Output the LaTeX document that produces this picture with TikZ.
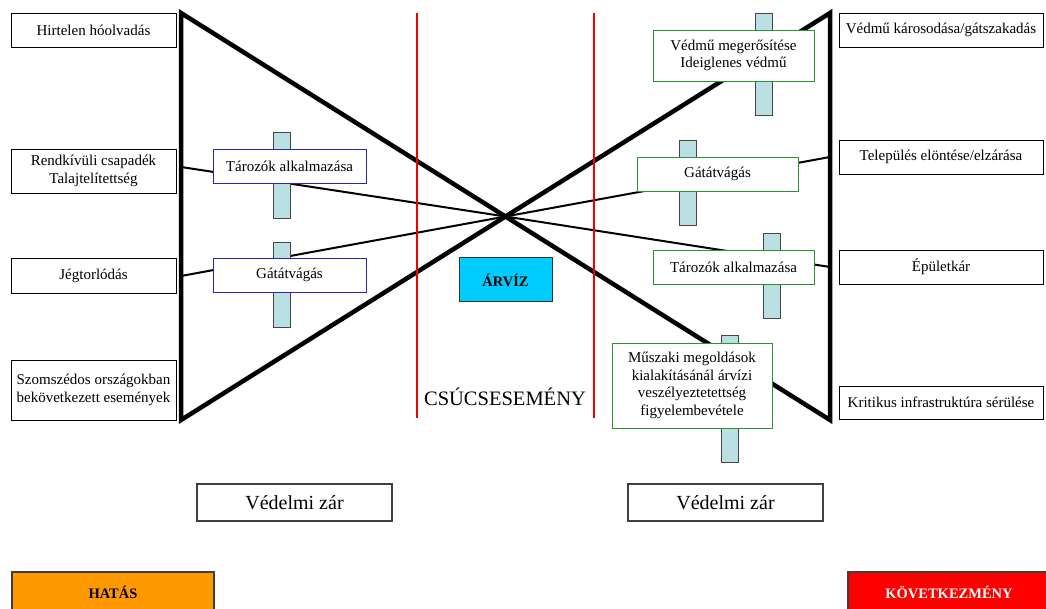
\documentclass[tikz,border=0pt]{standalone}
\usepackage{fontspec}
\setmainfont{Liberation Serif}
\definecolor{barfill}{RGB}{187,224,227}
\definecolor{bardraw}{RGB}{70,70,70}
\definecolor{lblue}{RGB}{40,40,170}
\definecolor{rgreen}{RGB}{40,150,40}
\definecolor{arvizc}{RGB}{0,204,255}
\definecolor{hatasc}{RGB}{255,153,0}
\definecolor{redline}{RGB}{240,0,0}
\begin{document}
\begin{tikzpicture}[x=1pt,y=-1pt,
  txt/.style={font=\fontsize{15}{17.5}\selectfont},
  box/.style={draw=black, line width=0.9pt, fill=white, inner sep=0pt, align=center, txt},
  lbox/.style={box, draw=lblue},
  rbox/.style={box, draw=rgreen},
  bar/.style={draw=bardraw, line width=0.9pt, fill=barfill, inner sep=0pt, minimum width=17pt},
  bowtie/.style={line width=4.5pt, line join=miter},
  thinline/.style={line width=2pt},
  redl/.style={draw=redline, line width=2.5pt},
  bigbox/.style={draw=black!75, line width=1.3pt, inner sep=0pt, align=center},
  boldtxt/.style={font=\fontsize{14.5}{17}\selectfont\bfseries}
]
\useasboundingbox (0,0) rectangle (1046,609);

% bow-tie frame
\coordinate (LT) at (181,13);
\coordinate (LB) at (181,420);
\coordinate (RT) at (830,13);
\coordinate (RB) at (830,420);
\coordinate (C) at (505.5,216.5);
\draw[bowtie] (RB) -- (LT) -- (LB) -- (RT) -- cycle;

% thin connectors
\coordinate (a2) at (181,167);
\coordinate (a3) at (181,276);
\coordinate (b2) at (830,157);
\coordinate (b3) at (830,267);
\draw[thinline] (a2) -- (C);
\draw[thinline] (a3) -- (C);
\draw[thinline] (C) -- (b2);
\draw[thinline] (C) -- (b3);

% red lines
\coordinate (r1t) at (417,13);
\coordinate (r1b) at (417,418);
\coordinate (r2t) at (594,13);
\coordinate (r2b) at (594,418);
\draw[redl] (r1t) -- (r1b);
\draw[redl] (r2t) -- (r2b);

% left boxes
\node[box, minimum width=165pt, minimum height=34pt] (L1) at (93.5,30) {Hirtelen hóolvadás};
\node[box, minimum width=165pt, minimum height=44pt] (L2) at (93.5,171) {Rendkívüli csapadék\\Talajtelítettség};
\node[box, minimum width=165pt, minimum height=35pt] (L3) at (93.5,275.5) {Jégtorlódás};
\node[box, minimum width=165pt, minimum height=60pt] (L4) at (93.5,390) {Szomszédos országokban\\bekövetkezett események};

% right boxes
\node[box, minimum width=204pt, minimum height=34pt] (R1) at (941,30) {Védmű károsodása/gátszakadás};
\node[box, minimum width=204pt, minimum height=34pt] (R2) at (941,157) {Település elöntése/elzárása};
\node[box, minimum width=204pt, minimum height=34pt] (R3) at (941,267) {Épületkár};
\node[box, minimum width=204pt, minimum height=33pt] (R4) at (941,402.5) {Kritikus infrastruktúra sérülése};

% left barriers
\node[bar, minimum height=86pt] (LB1bar) at (281.5,175) {};
\node[lbox, minimum width=153pt, minimum height=34pt] (LB1) at (289.5,166) {Tározók alkalmazása};
\node[bar, minimum height=85pt] (LB2bar) at (281.5,284.5) {};
\node[lbox, minimum width=153pt, minimum height=34pt] (LB2) at (289.5,275) {Gátátvágás};

% right barriers
\node[bar, minimum height=102pt] (RB1bar) at (763.5,64) {};
\node[rbox, minimum width=161pt, minimum height=51pt] (RB1) at (733.5,55.5) {Védmű megerősítése\\Ideiglenes védmű};
\node[bar, minimum height=85pt] (RB2bar) at (688,182.5) {};
\node[rbox, minimum width=161pt, minimum height=34pt] (RB2) at (717.5,174) {Gátátvágás};
\node[bar, minimum height=85pt] (RB3bar) at (772,275.5) {};
\node[rbox, minimum width=161pt, minimum height=34pt] (RB3) at (733.5,267) {Tározók alkalmazása};
\node[bar, minimum height=127pt] (RB4bar) at (729.5,398.5) {};
\node[rbox, minimum width=160pt, minimum height=85pt] (RB4) at (692,385.5) {Műszaki megoldások\\kialakításánál árvízi\\veszélyeztetettség\\figyelembevétele};

% top event
\node[bigbox, draw=black!80, line width=1pt, fill=arvizc, minimum width=93pt, minimum height=44pt, boldtxt] (arviz) at (505.5,280) {ÁRVÍZ};
\node[font=\fontsize{20.5}{24}\selectfont, inner sep=0pt] (csucs) at (505,397) {CSÚCSESEMÉNY};

% defence labels
\node[bigbox, fill=white, minimum width=195pt, minimum height=37pt, font=\fontsize{20}{24}\selectfont] (vz1) at (294.5,502.5) {Védelmi zár};
\node[bigbox, fill=white, minimum width=195pt, minimum height=37pt, font=\fontsize{20}{24}\selectfont] (vz2) at (725.5,502.5) {Védelmi zár};

% bottom
\node[bigbox, fill=hatasc, minimum width=202pt, minimum height=41pt, boldtxt] (hatas) at (113,592.5) {HATÁS};
\node[bigbox, fill=red, text=white, minimum width=202pt, minimum height=41pt, boldtxt] (kov) at (949,592.5) {KÖVETKEZMÉNY};
\end{tikzpicture}
\end{document}
